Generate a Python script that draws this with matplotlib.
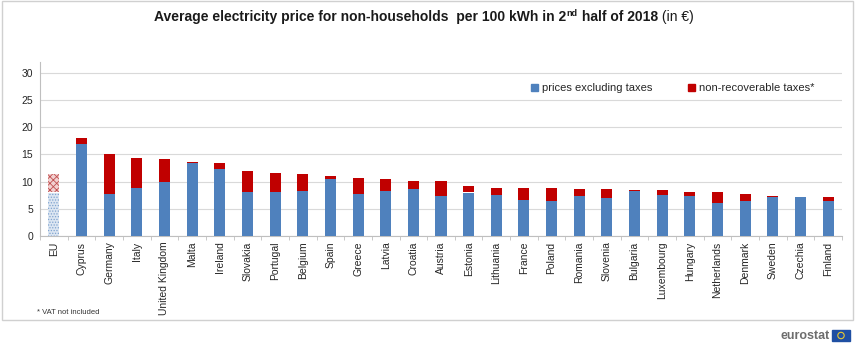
import matplotlib.pyplot as plt
from matplotlib.patches import Rectangle, Patch, Circle
import numpy as np

plt.rcParams['font.family'] = ['Liberation Sans', 'DejaVu Sans']
plt.rcParams['hatch.linewidth'] = 0.6

countries = ["EU", "Cyprus", "Germany", "Italy", "United Kingdom", "Malta", "Ireland",
             "Slovakia", "Portugal", "Belgium", "Spain", "Greece", "Latvia", "Croatia",
             "Austria", "Estonia", "Lithuania", "France", "Poland", "Romania", "Slovenia",
             "Bulgaria", "Luxembourg", "Hungary", "Netherlands", "Denmark", "Sweden",
             "Czechia", "Finland"]
excl_taxes = [8.0, 17.0, 7.7, 8.8, 10.0, 13.5, 12.4, 8.1, 8.1, 8.2, 10.4, 7.8, 8.3, 8.7,
              7.3, 8.0, 7.6, 6.7, 6.5, 7.3, 7.0, 8.3, 7.5, 7.3, 6.1, 6.5, 7.2, 7.1, 6.4]
nonrec_taxes = [3.4, 1.1, 7.4, 5.5, 4.2, 0.1, 1.1, 3.9, 3.5, 3.2, 0.6, 2.8, 2.1, 1.5,
                2.8, 1.2, 1.3, 2.1, 2.3, 1.3, 1.6, 0.15, 0.95, 0.85, 2.0, 1.3, 0.15, 0.1, 0.7]

blue = "#4f81bd"
red = "#c00000"

fig = plt.figure(figsize=(8.6, 3.52), dpi=100)
ax = fig.add_axes([40 / 860, 1 - 236 / 352, 802 / 860, 174 / 352])

x = np.arange(len(countries))
w = 0.4
b1 = ax.bar(x, excl_taxes, width=w, color=blue, zorder=3)
b2 = ax.bar(x, nonrec_taxes, width=w, bottom=excl_taxes, color=red, zorder=3)

# EU bar hatched
b1[0].set_facecolor("#dce6f2")
b1[0].set_edgecolor("#7fa3cf")
b1[0].set_hatch("......")
b1[0].set_linewidth(0)
b2[0].set_facecolor("#f2d0d0")
b2[0].set_edgecolor("#c05050")
b2[0].set_hatch("xxxxx")
b2[0].set_linewidth(0)

ax.set_xlim(-0.5, len(countries) - 0.5)
ax.set_ylim(0, 32)
ax.set_yticks(range(0, 31, 5))
ax.set_xticks(x)
ax.set_xticklabels(countries, rotation=90, fontsize=7.5, color="#262626")
ax.set_xticks(np.arange(-0.5, len(countries), 1), minor=True)
ax.tick_params(axis="x", which="major", length=0, pad=4)
ax.tick_params(axis="x", which="minor", length=3, color="#bfbfbf")
ax.tick_params(axis="y", length=0, labelsize=7.5, labelcolor="#262626", pad=5)
ax.grid(axis="y", color="#d9d9d9", linewidth=0.8, zorder=0)
for s in ["top", "right"]:
    ax.spines[s].set_visible(False)
ax.spines["left"].set_color("#bfbfbf")
ax.spines["bottom"].set_color("#bfbfbf")

handles = [Patch(color=blue, label="prices excluding taxes"),
           Patch(color=red, label="non-recoverable taxes*")]
ax.legend(handles=handles, ncol=2, frameon=False, loc="center left",
          bbox_to_anchor=(0.6, 0.85), fontsize=8, handlelength=0.6, handleheight=0.6,
          handletextpad=0.4, columnspacing=3.2, labelcolor="#262626")

# frame around chart
fig.patches.append(Rectangle((2 / 860, 1 - 320 / 352), 851 / 860, 320 / 352 - 0.002,
                             transform=fig.transFigure, fill=False,
                             edgecolor="#d0d0d0", linewidth=1))

fig.text(37 / 860, 1 - 312 / 352, "* VAT not included", fontsize=5.5, color="#333333",
         va="center")

# title pieces
fig.canvas.draw()
r = fig.canvas.get_renderer()
y_t = 1 - 17 / 352
parts = [("Average electricity price for non-households  per 100 kWh in 2", "bold", 10, 0),
         ("nd", "bold", 6.5, 4),
         (" half of 2018", "bold", 10, 0),
         (" (in \u20ac)", "normal", 10, 0)]
texts = []
for s, wt, fs, dy in parts:
    texts.append(fig.text(0, y_t + dy / 352, s, fontweight=wt, fontsize=fs, va="center",
                          color="#1a1a1a"))
widths = [t.get_window_extent(r).width for t in texts]
start = 424 - sum(widths) / 2
for t, wd in zip(texts, widths):
    t.set_x(start / 860)
    start += wd

# eurostat logo
fig.text(830 / 860, 1 - 336 / 352, "eurostat", fontsize=9, fontweight="bold",
         color="#6d6d6d", ha="right", va="center")
fig.patches.append(Rectangle((832 / 860, 1 - 341 / 352), 18 / 860, 11 / 352,
                             transform=fig.transFigure, color="#1f4fa3"))
fig.patches.append(Circle((841, 352 - 335.5), 3.2, transform=None, fill=False,
                          edgecolor="#e8c830", linewidth=0.8))

fig.savefig("out.png", dpi=100)
